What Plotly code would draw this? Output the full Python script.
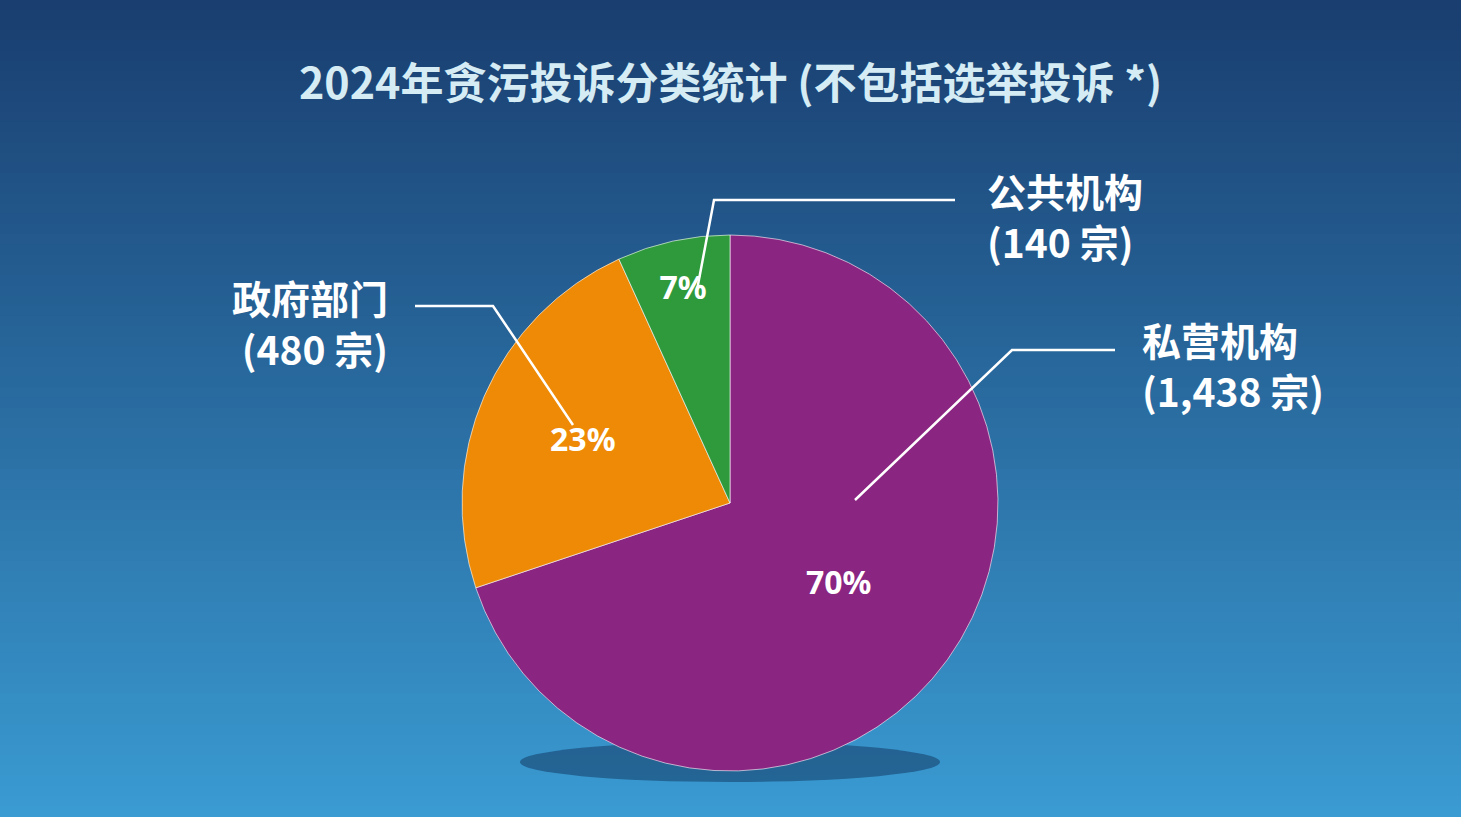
import plotly.graph_objects as go

categories = ["私营机构", "政府部门", "公共机构"]
values = [1438, 480, 140]
pct_labels = ["70%", "23%", "7%"]
outer_labels = ["私营机构<br>(1,438 宗)", "政府部门<br>(480 宗)", "公共机构<br>(140 宗)"]
colors = ["#8a2581", "#ee8a06", "#2f9a3c"]

W, H = 1461, 817
fig = go.Figure()
fig.add_trace(go.Pie(
    labels=categories, values=values, text=pct_labels, sort=False,
    direction="clockwise", rotation=0,
    texttemplate="<b>%{text}</b>", textposition="inside", insidetextorientation="horizontal",
    insidetextfont=dict(color="white", size=32, family="Liberation Sans Narrow, Noto Sans"),
    marker=dict(colors=colors, line=dict(color="rgba(255,255,255,0.6)", width=1)),
    domain=dict(x=[462/W, 998/W], y=[(H-771)/H, (H-235)/H]),
    showlegend=False, hoverinfo="label+value",
))

shapes = []
n = 80
top, bot = (26, 62, 112), (58, 155, 210)
for i in range(n):
    t = i / (n - 1)
    c = tuple(int(top[k] + (bot[k] - top[k]) * t) for k in range(3))
    shapes.append(dict(type="rect", xref="paper", yref="paper", x0=0, x1=1,
                       y0=1 - (i + 1) / n, y1=1 - i / n + 0.001, line=dict(width=0),
                       fillcolor="rgb(%d,%d,%d)" % c, layer="below"))
shapes.append(dict(type="circle", xref="paper", yref="paper",
                   x0=520/W, x1=940/W, y0=(H-782)/H, y1=(H-742)/H,
                   fillcolor="rgba(10,40,80,0.45)", line=dict(width=0), layer="below"))

def px(x, y):
    return x / W, (H - y) / H

leaders = [[(855, 500), (1012, 350), (1115, 350)],
           [(573, 425), (493, 306), (415, 306)],
           [(697, 290), (714, 200), (955, 200)]]
for pts in leaders:
    path = "M " + " L ".join("%f,%f" % px(x, y) for x, y in pts)
    shapes.append(dict(type="path", xref="paper", yref="paper", path=path,
                       line=dict(color="white", width=2.5)))

anns = [
    dict(x=0.5, y=px(0, 80)[1], text="<b>2024年贪污投诉分类统计 (不包括选举投诉 *)</b>",
         font=dict(size=43, color="#d5ecf5", family="Noto Sans CJK SC"), xanchor="center", yanchor="middle"),
    dict(x=px(1140, 0)[0], y=px(0, 364)[1], text="<b>" + outer_labels[0] + "</b>", xanchor="left", align="left"),
    dict(x=px(390, 0)[0], y=px(0, 322)[1], text="<b>" + outer_labels[1] + "</b>", xanchor="right", align="right"),
    dict(x=px(985, 0)[0], y=px(0, 215)[1], text="<b>" + outer_labels[2] + "</b>", xanchor="left", align="left"),
]
for a in anns[1:]:
    a.update(xref="paper", yref="paper", yanchor="middle", showarrow=False,
             font=dict(size=39, color="white", family="Noto Sans CJK SC"))
anns[0].update(xref="paper", yref="paper", showarrow=False)

fig.update_layout(width=W, height=H, margin=dict(l=0, r=0, t=0, b=0),
                  paper_bgcolor="#2a6aa8", plot_bgcolor="rgba(0,0,0,0)",
                  shapes=shapes, annotations=anns)
fig.write_html("out.html", config={"displayModeBar": False},
               post_script="document.body.style.margin='0';document.body.style.overflow='hidden';document.body.style.background='#2a6aa8';")
